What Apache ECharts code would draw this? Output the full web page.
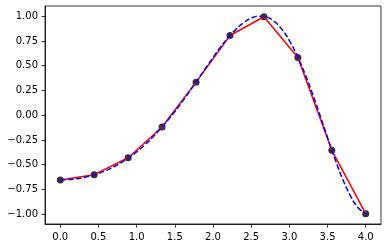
<!DOCTYPE html>
<html>
<head>
<meta charset="utf-8">
<script src="https://cdn.jsdelivr.net/npm/echarts@6/dist/echarts.min.js"></script>
<style>html,body{margin:0;padding:0;background:#fff}#c{width:386px;height:248px}</style>
</head>
<body>
<div id="c"></div>
<script>
// sample points (black dots, red linear line)
const sampleX = [0.0, 0.444, 0.889, 1.333, 1.778, 2.222, 2.667, 3.111, 3.556, 4.0];
const sampleY = [-0.654, -0.601, -0.430, -0.120, 0.334, 0.806, 0.995, 0.584, -0.355, -0.996];
// dashed blue smooth curve
const curveX = [0.0,0.1,0.2,0.3,0.4,0.5,0.6,0.7,0.8,0.9,1.0,1.1,1.2,1.3,1.4,1.5,1.6,1.7,1.8,1.9,2.0,2.1,2.2,2.3,2.4,2.5,2.6,2.7,2.8,2.9,3.0,3.1,3.2,3.3,3.4,3.5,3.6,3.7,3.8,3.9,4.0];
const curveY = [-0.654,-0.651,-0.644,-0.631,-0.613,-0.589,-0.559,-0.522,-0.479,-0.428,-0.371,-0.304,-0.230,-0.148,-0.059,0.037,0.140,0.248,0.359,0.471,0.582,0.689,0.784,0.868,0.935,0.980,1.000,0.992,0.950,0.870,0.755,0.605,0.427,0.222,0.001,-0.227,-0.449,-0.650,-0.815,-0.935,-0.996];
const xTicks = [0, 0.5, 1, 1.5, 2, 2.5, 3, 3.5, 4];
const yTicks = [-1, -0.75, -0.5, -0.25, 0, 0.25, 0.5, 0.75, 1];

const pts = sampleX.map((x, i) => [x, sampleY[i]]);
const curve = curveX.map((x, i) => [x, curveY[i]]);
const fmt = (v, d) => { const s = v.toFixed(d); return s.startsWith('-') ? '\u2212' + s.slice(1) : s; };

const chart = echarts.init(document.getElementById('c'), null, {renderer: 'canvas'});
chart.setOption({
  animation: false,
  backgroundColor: '#fff',
  grid: {left: 45, right: 5, top: 6, bottom: 24, show: true, borderColor: '#000', borderWidth: 0.8, backgroundColor: 'transparent'},
  xAxis: {
    type: 'value', min: -0.2, max: 4.2,
    axisLine: {show: true, onZero: false, lineStyle: {color: '#000', width: 0.8}},
    axisTick: {show: true, inside: false, length: 3.5, lineStyle: {color: '#000', width: 0.8}, customValues: xTicks},
    axisLabel: {color: '#000', fontFamily: 'DejaVu Sans', fontSize: 10, margin: 8, customValues: xTicks, formatter: v => fmt(v, 1)},
    splitLine: {show: false}
  },
  yAxis: {
    type: 'value', min: -1.1, max: 1.104,
    axisLine: {show: true, onZero: false, lineStyle: {color: '#000', width: 0.8}},
    axisTick: {show: true, inside: false, length: 3.5, lineStyle: {color: '#000', width: 0.8}, customValues: yTicks},
    axisLabel: {color: '#000', fontFamily: 'DejaVu Sans', fontSize: 10, margin: 7, customValues: yTicks, formatter: v => fmt(v, 2)},
    splitLine: {show: false}
  },
  series: [
    {type: 'scatter', data: pts, symbol: 'circle', symbolSize: 7, itemStyle: {color: '#000'}, z: 2},
    {type: 'line', data: pts, symbol: 'none', lineStyle: {color: '#ff0000', width: 1.5}, z: 3},
    {type: 'line', data: curve, symbol: 'none', smooth: true, lineStyle: {color: '#0000ff', width: 1.5, type: [5.5, 2.4]}, z: 4}
  ]
});
</script>
</body>
</html>
